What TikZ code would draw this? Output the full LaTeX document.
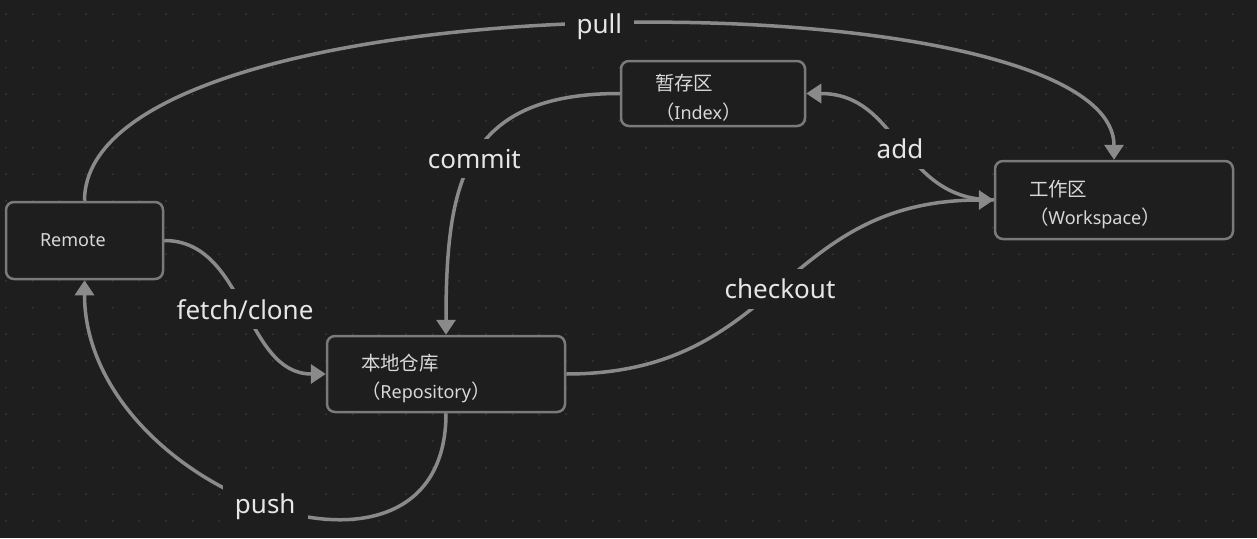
\documentclass[tikz,border=0pt]{standalone}
\usepackage{fontspec}
\setmainfont{Noto Sans}
\newfontfamily\cjk[Scale=1.08]{Noto Sans CJK SC}
\usetikzlibrary{arrows.meta}

\definecolor{canvasbg}{HTML}{1E1E1E}
\definecolor{griddot}{HTML}{363636}
\definecolor{boxline}{HTML}{7A7A7A}
\definecolor{edgeline}{HTML}{8A8A8A}
\definecolor{cardtext}{HTML}{D8D8D8}
\definecolor{tagtext}{HTML}{E6E6E6}

% two-line card text: Chinese name, then (English name)
\newcommand\cardlines[2]{\rule{0pt}{25pt}{\cjk #1}\\{\cjk （}#2{\cjk ）}}

\tikzset{
  card/.style={draw=boxline, line width=2.5pt, rounded corners=8pt, fill=canvasbg,
    text=cardtext, align=left, inner xsep=34pt, inner ysep=4pt,
    font=\fontsize{18}{28.5}\selectfont},
  flow/.style={draw=edgeline, line width=3.5pt, -{Triangle[length=15pt,width=19pt]}},
  tag/.style={midway, yshift=-2pt, fill=canvasbg, text=tagtext, inner xsep=12pt, inner ysep=10pt,
    font=\fontsize{26}{30}\selectfont}
}

\begin{document}
\begin{tikzpicture}[x=1pt,y=-1pt]
\fill[canvasbg] (0,0) rectangle (1257,538);
\useasboundingbox (0,0) rectangle (1257,538);

% dotted canvas
\foreach \i in {0,...,46}
  \foreach \j in {0,...,19}
    \fill[griddot] ({6+26.667*\i},{14.3+26.667*\j}) circle (1.1pt);

% cards
\node[card, text width=89pt,  minimum height=77pt] (remote)    at (84.5,240.5) {Remote};
\node[card, text width=116pt, minimum height=65pt] (index)     at (713,93.5)   {\cardlines{暂存区}{Index}};
\node[card, text width=170pt, minimum height=78pt] (workspace) at (1114,200)   {\cardlines{工作区}{Workspace}};
\node[card, text width=170pt, minimum height=76pt] (repo)      at (446,374)    {\cardlines{本地仓库}{Repository}};

% edges
\draw[flow] (remote.north) .. controls +(0,-228) and +(0,-187) .. (workspace.north) node[tag] {pull};
\draw[flow] (remote.east)  .. controls +(82,0)   and +(-82,0)  .. (repo.west)       node[tag] {fetch/clone};
\draw[flow] (repo.south)   .. controls +(0,210)  and +(0,210)  .. (remote.south)    node[tag] {push};
\draw[flow] (index.west)   .. controls +(-156,0) and +(0,-153) .. (repo.north)      node[tag] {commit};
\draw[flow] (workspace.west) .. controls +(-95,0) and +(95,0)  .. (index.east)      node[tag] {add};
\draw[flow] (repo.east)    .. controls +(215,0)  and +(-215,0) .. (workspace.west)  node[tag] {checkout};

\end{tikzpicture}
\end{document}
